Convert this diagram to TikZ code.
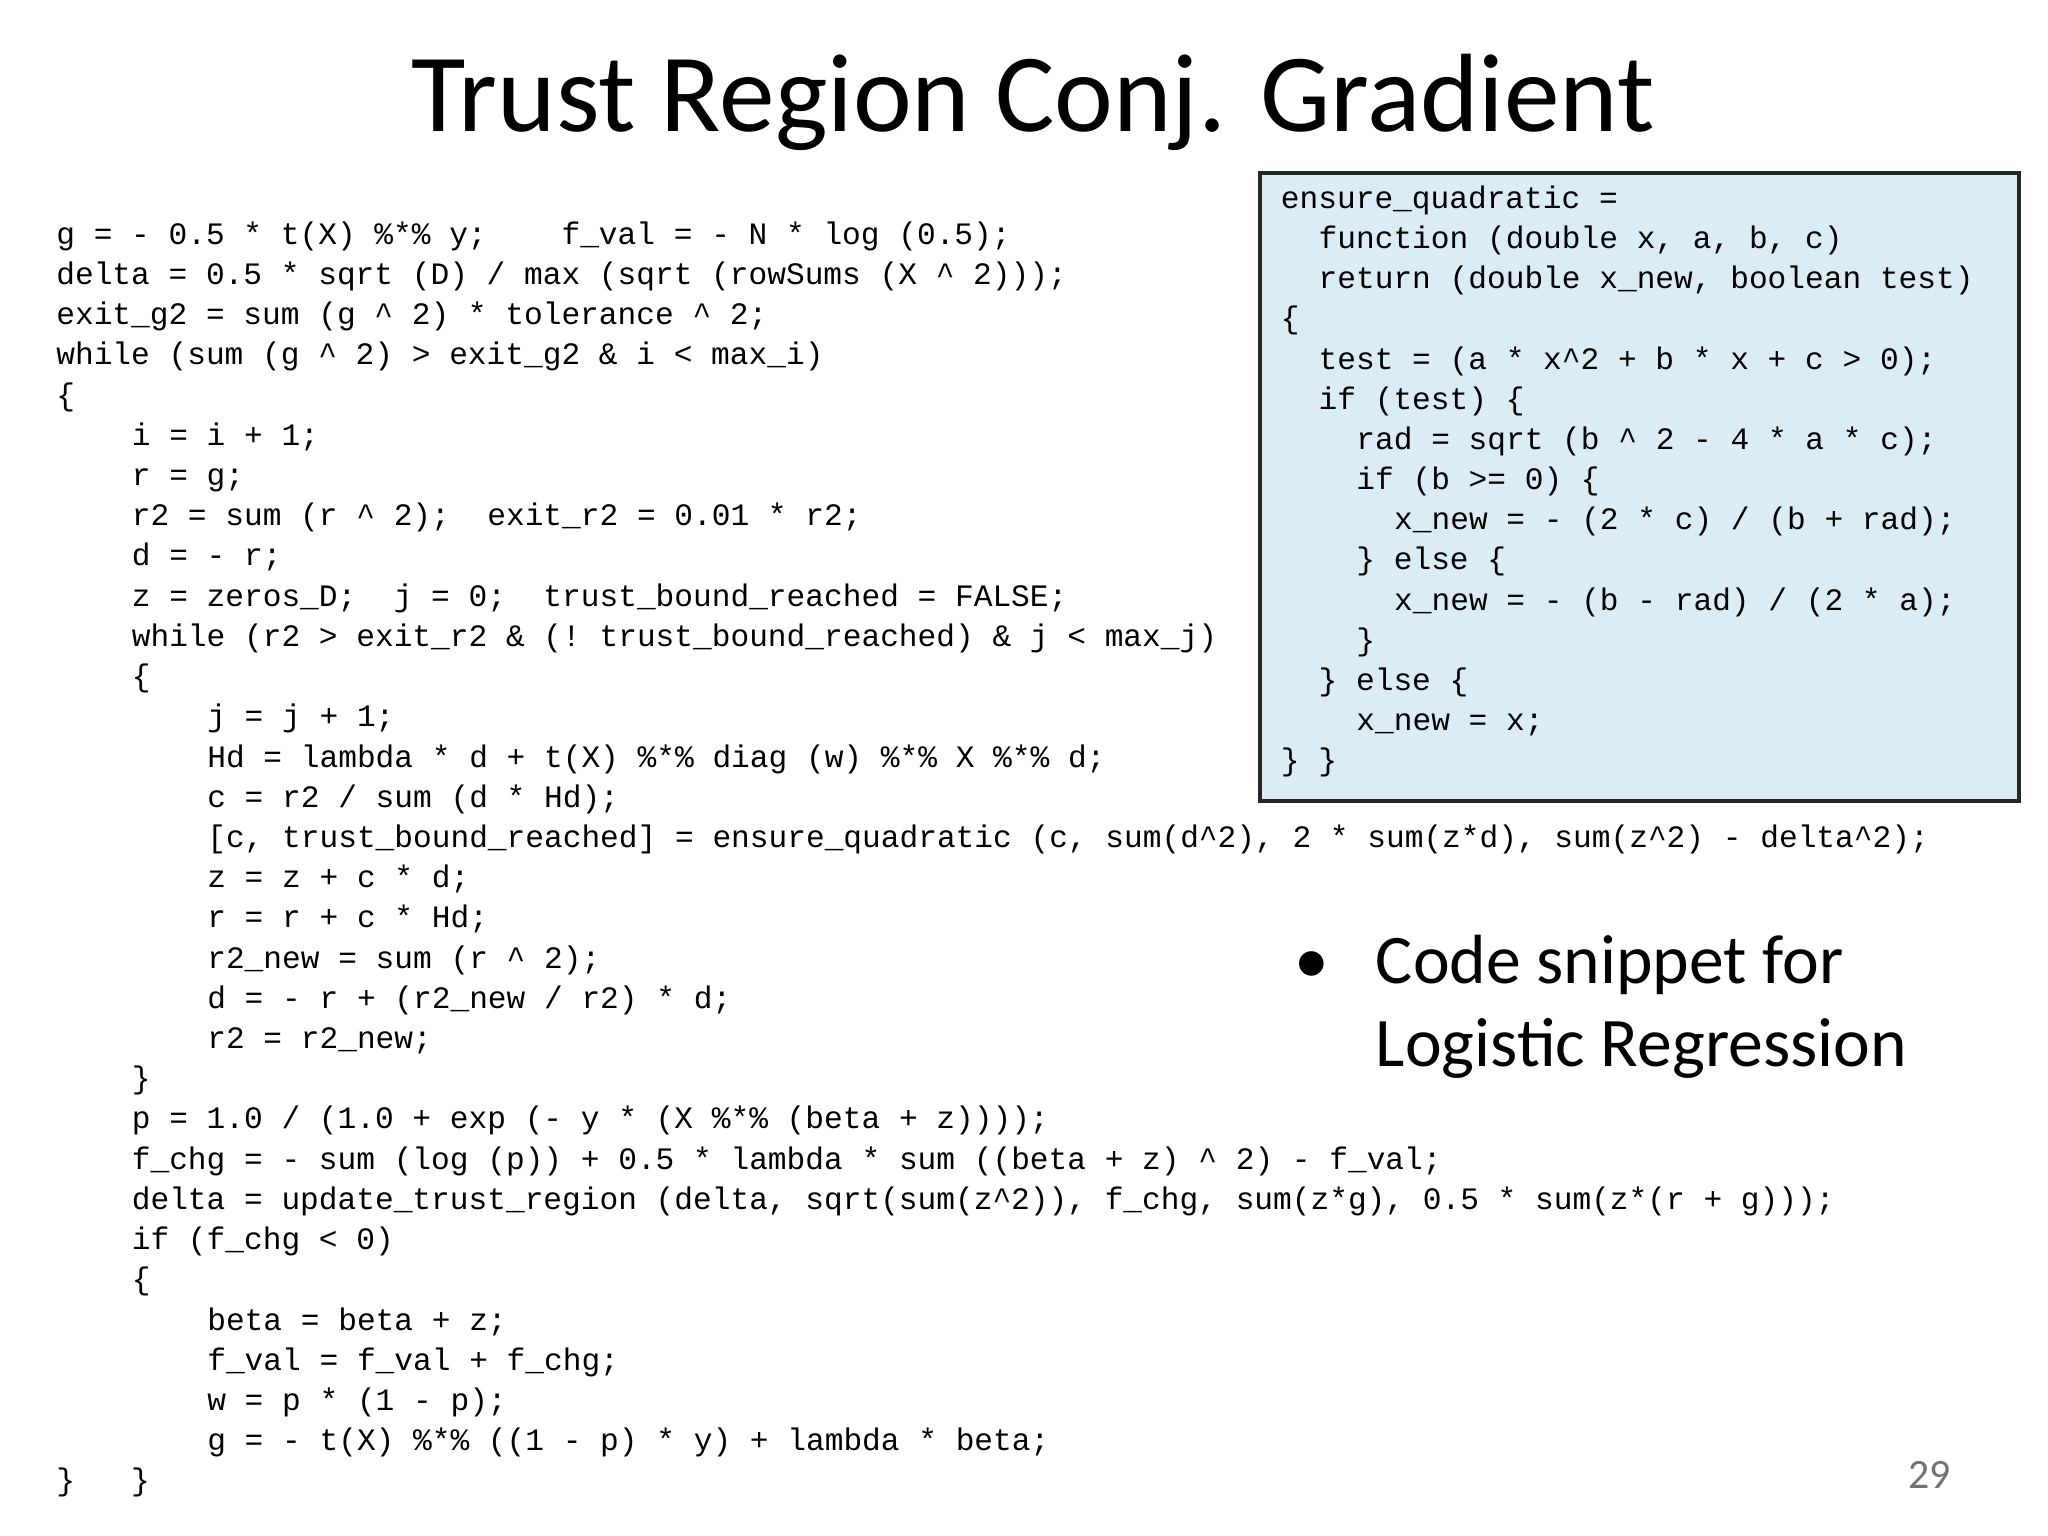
\documentclass[tikz,border=0pt]{standalone}
\usepackage{fontspec}
\setmainfont{Carlito}
\setmonofont{Liberation Mono}
\begin{document}
\begin{tikzpicture}[x=0.01cm,y=-0.01cm,
  code/.style={anchor=base west,inner sep=0pt,font=\fontsize{6.72pt}{7pt}\ttfamily},
  box/.style={draw=black!85,line width=0.8pt,fill={rgb,255:red,219;green,236;blue,244}}]
\useasboundingbox (0,0) rectangle (1552,1164);
\node[anchor=base,inner sep=0pt,font=\fontsize{24pt}{28pt}\selectfont] (title) at (783,100) {Trust Region Conj. Gradient};
\draw[box] (955,131) rectangle (1530,607);
\coordinate (qbox) at (955,131);
\def\ch{14.3}
\foreach \lv/\t [count=\i] in {
0/{g = - 0.5 * t(X) \%*\% y;\ \ \ \ f\_val = - N * log (0.5);},
0/{delta = 0.5 * sqrt (D) / max (sqrt (rowSums (X \textasciicircum{} 2)));},
0/{exit\_g2 = sum (g \textasciicircum{} 2) * tolerance \textasciicircum{} 2;},
0/{while (sum (g \textasciicircum{} 2) > exit\_g2 \& i < max\_i)},
0/{\{},
4/{i = i + 1;},
4/{r = g;},
4/{r2 = sum (r \textasciicircum{} 2);\ \ exit\_r2 = 0.01 * r2;},
4/{d = - r;},
4/{z = zeros\_D;\ \ j = 0;\ \ trust\_bound\_reached = FALSE;},
4/{while (r2 > exit\_r2 \& (! trust\_bound\_reached) \& j < max\_j)},
4/{\{},
8/{j = j + 1;},
8/{Hd = lambda * d + t(X) \%*\% diag (w) \%*\% X \%*\% d;},
8/{c = r2 / sum (d * Hd);},
8/{[c, trust\_bound\_reached] = ensure\_quadratic (c, sum(d\textasciicircum{}2), 2 * sum(z*d), sum(z\textasciicircum{}2) - delta\textasciicircum{}2);},
8/{z = z + c * d;},
8/{r = r + c * Hd;},
8/{r2\_new = sum (r \textasciicircum{} 2);},
8/{d = - r + (r2\_new / r2) * d;},
8/{r2 = r2\_new;},
4/{\}},
4/{p = 1.0 / (1.0 + exp (- y * (X \%*\% (beta + z))));},
4/{f\_chg = - sum (log (p)) + 0.5 * lambda * sum ((beta + z) \textasciicircum{} 2) - f\_val;},
4/{delta = update\_trust\_region (delta, sqrt(sum(z\textasciicircum{}2)), f\_chg, sum(z*g), 0.5 * sum(z*(r + g)));},
4/{if (f\_chg < 0)},
4/{\{},
8/{beta = beta + z;},
8/{f\_val = f\_val + f\_chg;},
8/{w = p * (1 - p);},
8/{g = - t(X) \%*\% ((1 - p) * y) + lambda * beta;},
0/{\}\ \ \ \}}}
  \node[code] (l\i) at ({42+\ch*\lv},{185+30.48*(\i-1)}) {\t};
\foreach \lv/\t [count=\i] in {
0/{ensure\_quadratic =},
2/{function (double x, a, b, c)},
2/{return (double x\_new, boolean test)},
0/{\{},
2/{test = (a * x\textasciicircum{}2 + b * x + c > 0);},
2/{if (test) \{},
4/{rad = sqrt (b \textasciicircum{} 2 - 4 * a * c);},
4/{if (b >= 0) \{},
6/{x\_new = - (2 * c) / (b + rad);},
4/{\} else \{},
6/{x\_new = - (b - rad) / (2 * a);},
4/{\}},
2/{\} else \{},
4/{x\_new = x;},
0/{\} \}}}
  \node[code] (q\i) at ({970+\ch*\lv},{158+30.43*(\i-1)}) {\t};
\node[anchor=base west,inner sep=0pt,font=\fontsize{15pt}{18pt}\selectfont] (bul) at (980,745) {•};
\node[anchor=base west,inner sep=0pt,font=\fontsize{15pt}{18pt}\selectfont] (b1) at (1042,745) {Code snippet for};
\node[anchor=base west,inner sep=0pt,font=\fontsize{15pt}{18pt}\selectfont] (b2) at (1042,808) {Logistic Regression};
\node[anchor=base,inner sep=0pt,text=black!55,font=\fontsize{9pt}{10pt}\selectfont] (pg) at (1462,1128) {29};
\end{tikzpicture}
\end{document}
